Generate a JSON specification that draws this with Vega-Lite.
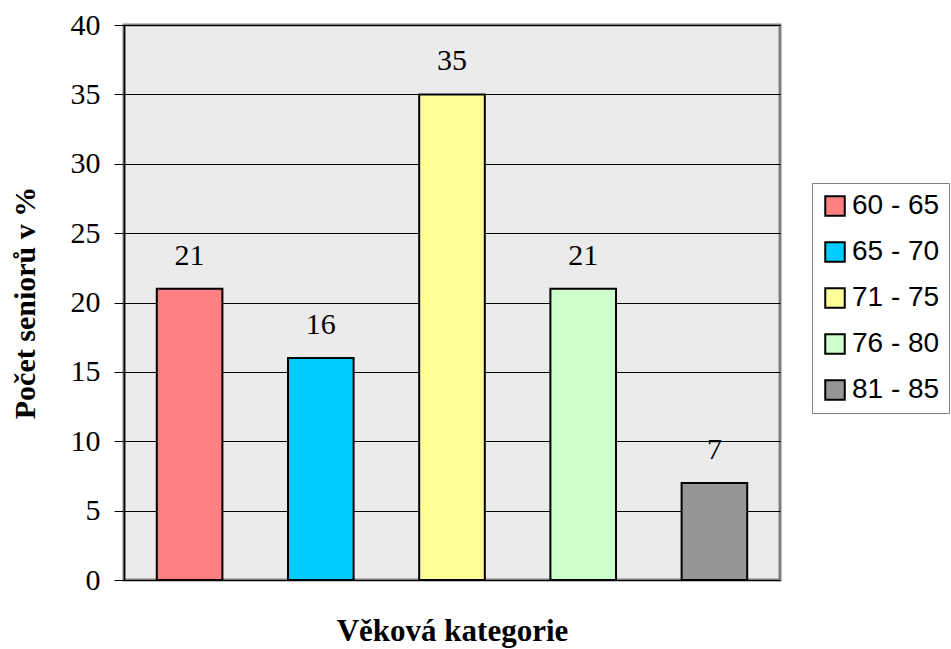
{
  "$schema": "https://vega.github.io/schema/vega-lite/v6.json",
  "width": 656,
  "height": 555,
  "autosize": {"type": "none"},
  "padding": {"left": 124, "top": 25, "right": 171, "bottom": 69},
  "background": "white",
  "view": {"fill": "#ebebeb", "stroke": "#808080", "strokeWidth": 3},
  "data": {
    "values": [
      {"kategorie": "60 - 65", "procento": 21},
      {"kategorie": "65 - 70", "procento": 16},
      {"kategorie": "71 - 75", "procento": 35},
      {"kategorie": "76 - 80", "procento": 21},
      {"kategorie": "81 - 85", "procento": 7}
    ]
  },
  "encoding": {
    "x": {
      "field": "kategorie",
      "type": "nominal",
      "sort": null,
      "scale": {"paddingInner": 0.5, "paddingOuter": 0.25},
      "axis": {
        "title": "Věková kategorie",
        "titleFont": "Liberation Serif",
        "titleFontSize": 31,
        "titleFontWeight": "bold",
        "titleColor": "black",
        "titlePadding": 36,
        "labels": false,
        "ticks": false,
        "domain": false
      }
    },
    "y": {
      "field": "procento",
      "type": "quantitative",
      "scale": {"domain": [0, 40]},
      "axis": {
        "title": "Počet seniorů v %",
        "titleFont": "Liberation Serif",
        "titleFontSize": 30,
        "titleFontWeight": "bold",
        "titleColor": "black",
        "titlePadding": 30,
        "values": [0, 5, 10, 15, 20, 25, 30, 35, 40],
        "labelFont": "Liberation Serif",
        "labelFontSize": 30,
        "labelColor": "black",
        "labelPadding": 14,
        "tickColor": "black",
        "tickSize": 10,
        "domainColor": "black",
        "domainWidth": 1.5,
        "gridColor": "black",
        "gridOpacity": 1,
        "gridWidth": 1
      }
    }
  },
  "layer": [
    {
      "mark": {"type": "bar", "stroke": "black", "strokeWidth": 2},
      "encoding": {
        "color": {
          "field": "kategorie",
          "type": "nominal",
          "sort": null,
          "scale": {
            "domain": ["60 - 65", "65 - 70", "71 - 75", "76 - 80", "81 - 85"],
            "range": ["#ff8080", "#00ccff", "#ffff99", "#ccffcc", "#969696"]
          },
          "legend": {
            "title": null,
            "orient": "none",
            "legendX": 688,
            "legendY": 158,
            "padding": 9,
            "strokeColor": "#808080",
            "fillColor": "white",
            "symbolType": "square",
            "symbolSize": 380,
            "symbolStrokeColor": "black",
            "symbolStrokeWidth": 2,
            "labelFont": "Liberation Sans",
            "labelFontSize": 28,
            "labelColor": "black",
            "labelOffset": 3,
            "rowPadding": 18
          }
        }
      }
    },
    {
      "mark": {
        "type": "text",
        "baseline": "alphabetic",
        "dy": -24,
        "font": "Liberation Serif",
        "fontSize": 30,
        "color": "black"
      },
      "encoding": {"text": {"field": "procento", "type": "quantitative"}}
    }
  ]
}
